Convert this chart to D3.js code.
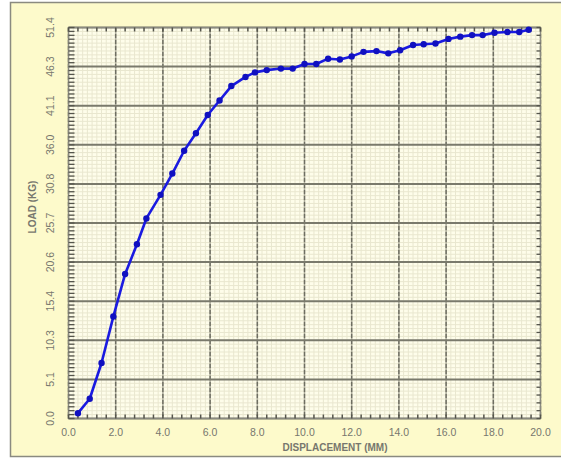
<!DOCTYPE html>
<html><head><meta charset="utf-8">
<script src="https://cdn.jsdelivr.net/npm/d3@7"></script>
<style>body{margin:0;background:#fff;}svg{display:block;}</style>
</head><body>
<svg id="chart" width="561" height="459"></svg>
<script>
const displacement = [0.4, 0.9, 1.4, 1.9, 2.4, 2.9, 3.3, 3.9, 4.4, 4.9, 5.4, 5.9, 6.4, 6.9, 7.5, 7.9, 8.4, 9.0, 9.5, 10.0, 10.5, 11.0, 11.5, 12.0, 12.5, 13.05, 13.55, 14.05, 14.6, 15.05, 15.55, 16.1, 16.6, 17.1, 17.55, 18.05, 18.6, 19.1, 19.5];
const load = [0.7, 2.6, 7.3, 13.4, 19.0, 22.9, 26.3, 29.4, 32.2, 35.2, 37.5, 39.9, 41.8, 43.7, 44.9, 45.5, 45.8, 46.0, 46.0, 46.6, 46.6, 47.3, 47.2, 47.6, 48.2, 48.3, 48.0, 48.4, 49.1, 49.2, 49.3, 49.9, 50.2, 50.4, 50.4, 50.7, 50.8, 50.8, 51.1];
const xTickLabels = ["0.0","2.0","4.0","6.0","8.0","10.0","12.0","14.0","16.0","18.0","20.0"];
const yTickLabels = ["0.0","5.1","10.3","15.4","20.6","25.7","30.8","36.0","41.1","46.3","51.4"];
const xTitle = "DISPLACEMENT (MM)";
const yTitle = "LOAD (KG)";

const svg = d3.select("#chart");
const L = 68.5, R = 540.5, T = 27.5, B = 418.5;
const x = d3.scaleLinear().domain([0, 20]).range([L, R]);
const y = d3.scaleLinear().domain([0, 51.4]).range([B, T]);
const xMajor = xTickLabels.map(d => +d);
const yMajor = yTickLabels.map((d, i) => i * 51.4 / 10);

// outer background
svg.append("rect").attr("x", 0).attr("y", 0).attr("width", 561).attr("height", 459).attr("fill", "#ffffff");
svg.append("rect").attr("x", 10.5).attr("y", 2.5).attr("width", 560).attr("height", 454)
  .attr("fill", "#fdfacb").attr("stroke", "#8a8a80").attr("stroke-width", 1.5);

// plot background
svg.append("rect").attr("x", L).attr("y", T).attr("width", R - L).attr("height", B - T).attr("fill", "#fefdea");

// minor grid
const xMinor = d3.range(0, 20.001, 0.2);
const yMinor = d3.range(0, 51.401, 5.14 / 10);
svg.append("g").selectAll("line").data(xMinor).join("line")
  .attr("x1", d => x(d)).attr("x2", d => x(d)).attr("y1", T).attr("y2", B)
  .attr("stroke", "#e9e7cf").attr("stroke-width", 1);
svg.append("g").selectAll("line").data(yMinor).join("line")
  .attr("y1", d => y(d)).attr("y2", d => y(d)).attr("x1", L).attr("x2", R)
  .attr("stroke", "#e9e7cf").attr("stroke-width", 1);

// major grid
svg.append("g").selectAll("line").data(xMajor).join("line")
  .attr("x1", d => x(d)).attr("x2", d => x(d)).attr("y1", T).attr("y2", B)
  .attr("stroke", "#6e6e62").attr("stroke-width", 1.6).attr("stroke-dasharray", "5,1");
svg.append("g").selectAll("line").data(yMajor).join("line")
  .attr("y1", d => y(d)).attr("y2", d => y(d)).attr("x1", L).attr("x2", R)
  .attr("stroke", "#7a7a6c").attr("stroke-width", 2);

// frame
svg.append("rect").attr("x", L).attr("y", T).attr("width", R - L).attr("height", B - T)
  .attr("fill", "none").attr("stroke", "#8a8a80").attr("stroke-width", 1.2);

// inward minor ticks
const tickCol = "#55554c";
const xTk = d3.range(0, 20.001, 0.4);
const yTkL = d3.range(0, 51.401, 5.14 / 10);
const yTkR = d3.range(0, 51.401, 5.14 / 5);
svg.append("g").selectAll("line").data(xTk).join("line")
  .attr("x1", d => x(d)).attr("x2", d => x(d)).attr("y1", T).attr("y2", T + 4)
  .attr("stroke", tickCol).attr("stroke-width", 1.5);
svg.append("g").selectAll("line").data(xTk).join("line")
  .attr("x1", d => x(d)).attr("x2", d => x(d)).attr("y1", B).attr("y2", B - 4)
  .attr("stroke", tickCol).attr("stroke-width", 1.5);
svg.append("g").selectAll("line").data(yTkL).join("line")
  .attr("y1", d => y(d)).attr("y2", d => y(d)).attr("x1", L).attr("x2", L + 6)
  .attr("stroke", tickCol).attr("stroke-width", 1.3);
svg.append("g").selectAll("line").data(yTkR).join("line")
  .attr("y1", d => y(d)).attr("y2", d => y(d)).attr("x1", R).attr("x2", R - 4)
  .attr("stroke", tickCol).attr("stroke-width", 1.3);

// tick labels
const font = "Liberation Sans, Arial, sans-serif";
svg.append("g").selectAll("text").data(xTickLabels).join("text")
  .attr("x", d => x(+d)).attr("y", 436)
  .attr("text-anchor", "middle").attr("font-family", font).attr("font-size", 10.5)
  .attr("fill", "#77776e").text(d => d);
svg.append("g").selectAll("text").data(yTickLabels).join("text")
  .attr("transform", (d, i) => `translate(54,${y(yMajor[i])}) rotate(-90)`)
  .attr("text-anchor", "middle").attr("font-family", font).attr("font-size", 10.5)
  .attr("fill", "#77776e").text(d => d);

// axis titles
svg.append("text").attr("x", 335).attr("y", 451).attr("text-anchor", "middle")
  .attr("font-family", font).attr("font-size", 10).attr("font-weight", "bold")
  .attr("fill", "#77776e").text(xTitle);
svg.append("text").attr("transform", "translate(36,207) rotate(-90)").attr("text-anchor", "middle")
  .attr("font-family", font).attr("font-size", 10).attr("font-weight", "bold")
  .attr("fill", "#77776e").text(yTitle);

// series
const pts = displacement.map((d, i) => [d, load[i]]);
svg.append("path").datum(pts)
  .attr("d", d3.line().x(d => x(d[0])).y(d => y(d[1])))
  .attr("fill", "none").attr("stroke", "#1a1ae0").attr("stroke-width", 2.6).attr("stroke-linejoin", "round");
svg.append("g").selectAll("circle").data(pts).join("circle")
  .attr("cx", d => x(d[0])).attr("cy", d => y(d[1])).attr("r", 3.2)
  .attr("fill", "#1010c0");
</script>
</body></html>
